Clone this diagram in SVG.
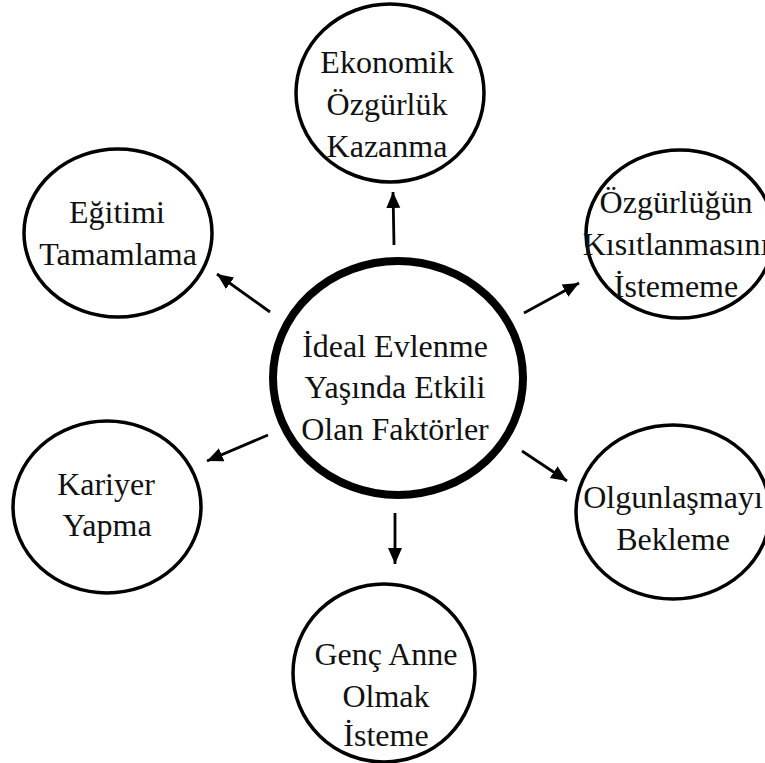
<svg xmlns="http://www.w3.org/2000/svg" width="765" height="763" viewBox="0 0 765 763">
<defs>
<style>
.n{fill:#fff;stroke:#000;stroke-width:3.5}
.c{fill:#fff;stroke:#000;stroke-width:8}
.t{font-family:'Liberation Serif','Times New Roman','DejaVu Serif',serif;font-size:32px;fill:#111;text-anchor:middle}
.e line{stroke:#000;stroke-width:2.8}
</style>
<marker id="ah" markerUnits="userSpaceOnUse" markerWidth="18" markerHeight="16" refX="16" refY="7" orient="auto" viewBox="0 0 18 14">
<path d="M0,0 L16,7 L0,14 Z" fill="#000"/>
</marker>
</defs>
<rect width="765" height="763" fill="#fff"/>
<g id="connectors" class="e">
<line x1="394" y1="245" x2="393" y2="192" marker-end="url(#ah)"/>
<line x1="270" y1="312" x2="217" y2="274" marker-end="url(#ah)"/>
<line x1="524" y1="313" x2="579" y2="283" marker-end="url(#ah)"/>
<line x1="268" y1="435" x2="207" y2="461" marker-end="url(#ah)"/>
<line x1="522" y1="451" x2="567" y2="481" marker-end="url(#ah)"/>
<line x1="395" y1="513" x2="395" y2="564" marker-end="url(#ah)"/>
</g>
<g id="center">
<ellipse class="c" cx="398" cy="378" rx="125" ry="117"/>
<text class="t" font-family="Liberation Serif, serif" x="395" y="357">İdeal Evlenme</text>
<text class="t" font-family="Liberation Serif, serif" x="395" y="398">Yaşında Etkili</text>
<text class="t" font-family="Liberation Serif, serif" x="395" y="440">Olan Faktörler</text>
</g>
<g id="ekonomik">
<ellipse class="n" cx="390" cy="93" rx="94" ry="89"/>
<text class="t" x="387" y="73">Ekonomik</text>
<text class="t" x="387" y="115">Özgürlük</text>
<text class="t" x="387" y="157">Kazanma</text>
</g>
<g id="egitimi">
<ellipse class="n" cx="118" cy="233" rx="94" ry="84"/>
<text class="t" x="117" y="223">Eğitimi</text>
<text class="t" x="118" y="265">Tamamlama</text>
</g>
<g id="ozgurlugun">
<ellipse class="n" cx="680" cy="234" rx="94" ry="84"/>
<text class="t" x="676" y="213">Özgürlüğün</text>
<text class="t" x="676" y="255">Kısıtlanmasını</text>
<text class="t" x="676" y="297">İstememe</text>
</g>
<g id="kariyer">
<ellipse class="n" cx="107" cy="507" rx="94" ry="86"/>
<text class="t" x="106" y="495">Kariyer</text>
<text class="t" x="107" y="536">Yapma</text>
</g>
<g id="olgunlasmayi">
<ellipse class="n" cx="673" cy="512" rx="97" ry="87"/>
<text class="t" x="673" y="508">Olgunlaşmayı</text>
<text class="t" x="673" y="550">Bekleme</text>
</g>
<g id="genc">
<ellipse class="n" cx="384" cy="673" rx="91" ry="89"/>
<text class="t" x="386" y="665">Genç Anne</text>
<text class="t" x="386" y="707">Olmak</text>
<text class="t" x="386" y="746">İsteme</text>
</g>
</svg>
